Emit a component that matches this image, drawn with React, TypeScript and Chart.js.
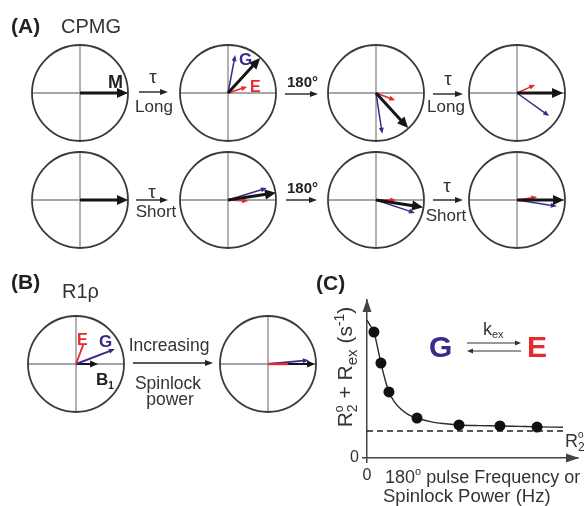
import React, { useEffect, useRef } from 'react';
import { Chart, registerables } from 'chart.js';

Chart.register(...registerables);

const FONT = '"Liberation Sans", Arial, Helvetica, sans-serif';
const PURPLE = '#3b2a8c';
const RED = '#e8292b';
const INK = '#151515';
const TEXT = '#333333';
const CIRCLE = '#3a3a3a';
const CROSS = '#888888';

// ---------- Panel C data (x: frequency, y: rate, arbitrary units) ----------
const pulseFreq = [3.3, 6.6, 10.4, 23.7, 43.6, 63.0, 80.6];
const rateObs = [79.7, 60.1, 41.8, 25.3, 20.9, 20.3, 19.6];
const fitFreq = [0, 1.5, 3.3, 5.0, 6.6, 8.5, 10.4, 13.0, 16.0, 20.0, 23.7, 30.0, 36.0, 43.6, 53.0, 63.0, 72.0, 80.6, 92.9];
const fitRate = [87.3, 84.0, 79.7, 70.0, 60.1, 50.0, 41.8, 35.5, 31.0, 27.2, 25.3, 23.0, 21.8, 20.9, 20.5, 20.3, 20.0, 19.7, 19.5];
const r2Baseline = 17.1;
const baselineFreq = [0, 92.9];
const xTickValues = [0];
const yTickValues = [0];

// ---------- Panel A vectors (fraction of radius, y up) ----------
type V = number[] | null;
const cpmgLongM: V[] = [[1.0, 0], [0.67, 0.73], [0.67, -0.73], [0.96, 0]];
const cpmgLongG: V[] = [null, [0.15, 0.79], [0.13, -0.85], [0.67, -0.48]];
const cpmgLongE: V[] = [null, [0.40, 0.13], [0.40, -0.15], [0.38, 0.17]];
const cpmgShortM: V[] = [[1.0, 0], [1.0, 0.15], [0.98, -0.15], [0.98, 0]];
const cpmgShortG: V[] = [null, [0.81, 0.25], [0.81, -0.27], [0.83, -0.13]];
const cpmgShortE: V[] = [null, [0.42, -0.02], [0.42, 0.0], [0.42, 0.06]];

// ---------- Panel B vectors ----------
const r1rhoB1: V[] = [[0.46, 0], [0.98, 0]];
const r1rhoG: V[] = [[0.81, 0.31], [0.85, 0.08]];
const r1rhoE: V[] = [[0.15, 0.40], [0.40, 0]];

// ---------- layout ----------
const R = 48;
const colX = [80, 228, 376, 517];
const rowY = [93, 200];
const bCenters = [[76, 364], [268, 364]];

type Part = { t: string; size: number; dy?: number; bold?: boolean; color?: string; stack?: boolean };

function fontStr(size: number, bold?: boolean) {
  return `${bold ? 'bold ' : ''}${size}px ${FONT}`;
}

function drawRich(ctx: CanvasRenderingContext2D, parts: Part[], x: number, y: number, align = 'left') {
  let cx = 0;
  let prevStart = 0;
  const items: { p: Part; sx: number }[] = [];
  for (const p of parts) {
    ctx.font = fontStr(p.size, p.bold);
    const w = ctx.measureText(p.t).width;
    let sx: number;
    if (p.stack) {
      sx = prevStart;
      cx = Math.max(cx, sx + w);
    } else {
      sx = cx;
      prevStart = sx;
      cx += w;
    }
    items.push({ p, sx });
  }
  const off = align === 'center' ? -cx / 2 : align === 'right' ? -cx : 0;
  ctx.textAlign = 'left';
  ctx.textBaseline = 'alphabetic';
  for (const { p, sx } of items) {
    ctx.font = fontStr(p.size, p.bold);
    ctx.fillStyle = p.color || TEXT;
    ctx.fillText(p.t, x + off + sx, y + (p.dy || 0));
  }
}

function txt(ctx: CanvasRenderingContext2D, s: string, x: number, y: number, size: number, bold = false, color = TEXT, align: CanvasTextAlign = 'left') {
  ctx.font = fontStr(size, bold);
  ctx.fillStyle = color;
  ctx.textAlign = align;
  ctx.textBaseline = 'alphabetic';
  ctx.fillText(s, x, y);
}

function arrow(ctx: CanvasRenderingContext2D, x0: number, y0: number, x1: number, y1: number, color: string, lw: number, hl: number, hw: number) {
  const a = Math.atan2(y1 - y0, x1 - x0);
  const ca = Math.cos(a), sa = Math.sin(a);
  const bx = x1 - hl * ca, by = y1 - hl * sa;
  ctx.strokeStyle = color;
  ctx.fillStyle = color;
  ctx.lineWidth = lw;
  ctx.lineCap = 'butt';
  ctx.beginPath();
  ctx.moveTo(x0, y0);
  ctx.lineTo(bx + ca, by + sa);
  ctx.stroke();
  if (hl > 0) {
    ctx.beginPath();
    ctx.moveTo(x1, y1);
    ctx.lineTo(bx - (hw / 2) * sa, by + (hw / 2) * ca);
    ctx.lineTo(bx + (hw / 2) * sa, by - (hw / 2) * ca);
    ctx.closePath();
    ctx.fill();
  }
}

function dial(ctx: CanvasRenderingContext2D, cx: number, cy: number) {
  ctx.lineWidth = 1.3;
  ctx.strokeStyle = CROSS;
  ctx.beginPath();
  ctx.moveTo(cx - R, cy);
  ctx.lineTo(cx + R, cy);
  ctx.moveTo(cx, cy - R);
  ctx.lineTo(cx, cy + R);
  ctx.stroke();
  ctx.lineWidth = 1.8;
  ctx.strokeStyle = CIRCLE;
  ctx.beginPath();
  ctx.arc(cx, cy, R, 0, Math.PI * 2);
  ctx.stroke();
}

function vec(ctx: CanvasRenderingContext2D, cx: number, cy: number, v: V, color: string, lw: number, hl: number, hw: number) {
  if (!v) return;
  arrow(ctx, cx, cy, cx + v[0] * R, cy - v[1] * R, color, lw, hl, hw);
}

function drawPanelA(ctx: CanvasRenderingContext2D) {
  txt(ctx, '(A)', 11, 33, 21, true, '#222');
  txt(ctx, 'CPMG', 61, 33, 20, false, TEXT);
  const sets = [
    [cpmgLongM, cpmgLongG, cpmgLongE],
    [cpmgShortM, cpmgShortG, cpmgShortE],
  ];
  for (let r = 0; r < 2; r++) {
    const [M, G, E] = sets[r];
    for (let c = 0; c < 4; c++) {
      const cx = colX[c], cy = rowY[r];
      dial(ctx, cx, cy);
      vec(ctx, cx, cy, G[c], PURPLE, 1.5, 6, 5);
      vec(ctx, cx, cy, E[c], RED, 1.6, 6, 5);
      vec(ctx, cx, cy, M[c], INK, 3, 11, 10);
    }
  }
  txt(ctx, 'M', 123, 88, 18, true, '#222', 'right');
  txt(ctx, 'G', 239, 65, 17, true, PURPLE);
  txt(ctx, 'E', 250, 92, 16, true, RED);

  // transitions row 1
  arrow(ctx, 139, 92, 168, 92, '#222', 1.4, 8, 6);
  txt(ctx, 'τ', 153, 83, 19, false, TEXT, 'center');
  txt(ctx, 'Long', 154, 112, 17, false, TEXT, 'center');
  arrow(ctx, 285, 94, 318, 94, '#222', 1.4, 8, 6);
  txt(ctx, '180°', 287, 87, 15, true, '#222');
  arrow(ctx, 433, 94, 463, 94, '#222', 1.4, 8, 6);
  txt(ctx, 'τ', 448, 85, 19, false, TEXT, 'center');
  txt(ctx, 'Long', 446, 112, 17, false, TEXT, 'center');

  // transitions row 2
  arrow(ctx, 136, 200, 168, 200, '#222', 1.4, 8, 6);
  txt(ctx, 'τ', 152, 198, 19, false, TEXT, 'center');
  txt(ctx, 'Short', 156, 217, 17, false, TEXT, 'center');
  arrow(ctx, 286, 200, 317, 200, '#222', 1.4, 8, 6);
  txt(ctx, '180°', 287, 193, 15, true, '#222');
  arrow(ctx, 433, 200, 463, 200, '#222', 1.4, 8, 6);
  txt(ctx, 'τ', 447, 192, 19, false, TEXT, 'center');
  txt(ctx, 'Short', 446, 221, 17, false, TEXT, 'center');
}

function drawPanelB(ctx: CanvasRenderingContext2D) {
  txt(ctx, '(B)', 11, 289, 21, true, '#222');
  txt(ctx, 'R1ρ', 62, 298, 20, false, TEXT);
  for (let i = 0; i < 2; i++) {
    const [cx, cy] = bCenters[i];
    dial(ctx, cx, cy);
    vec(ctx, cx, cy, r1rhoB1[i], INK, 2, 8, 7);
    vec(ctx, cx, cy, r1rhoG[i], PURPLE, 2, 6, 5);
    vec(ctx, cx, cy, r1rhoE[i], RED, i === 0 ? 1.8 : 2.4, 0, 0);
  }
  txt(ctx, 'E', 77, 345, 16, true, RED);
  txt(ctx, 'G', 99, 347, 17, true, PURPLE);
  drawRich(ctx, [
    { t: 'B', size: 17, bold: true, color: '#222' },
    { t: '1', size: 10, bold: true, dy: 4, color: '#222' },
  ], 96, 385);
  arrow(ctx, 133, 363, 213, 363, '#222', 1.4, 8, 6);
  txt(ctx, 'Increasing', 169, 351, 17.5, false, TEXT, 'center');
  txt(ctx, 'Spinlock', 168, 389, 17.5, false, TEXT, 'center');
  txt(ctx, 'power', 170, 405, 17.5, false, TEXT, 'center');
}

function drawPanelC(ctx: CanvasRenderingContext2D, chart: any) {
  const { left, top, right, bottom } = chart.chartArea;
  // axis arrowheads
  ctx.fillStyle = '#444';
  ctx.beginPath();
  ctx.moveTo(left, top - 1);
  ctx.lineTo(left - 4.5, top + 12);
  ctx.lineTo(left + 4.5, top + 12);
  ctx.closePath();
  ctx.fill();
  ctx.beginPath();
  ctx.moveTo(right + 1, bottom);
  ctx.lineTo(right - 12, bottom - 4.5);
  ctx.lineTo(right - 12, bottom + 4.5);
  ctx.closePath();
  ctx.fill();

  txt(ctx, '(C)', 316, 290, 21, true, '#222');

  // G <-> E
  txt(ctx, 'G', 429, 357, 30, true, PURPLE);
  txt(ctx, 'E', 527, 357, 30, true, RED);
  arrow(ctx, 467, 343, 521, 343, '#333', 1.2, 6, 5);
  arrow(ctx, 521, 351, 467, 351, '#333', 1.2, 6, 5);
  drawRich(ctx, [
    { t: 'k', size: 18 },
    { t: 'ex', size: 11, dy: 3 },
  ], 483, 335);

  // y title (rotated)
  ctx.save();
  ctx.translate(352, 367);
  ctx.rotate(-Math.PI / 2);
  drawRich(ctx, [
    { t: 'R', size: 21 },
    { t: '2', size: 14, dy: 5 },
    { t: 'o', size: 12, dy: -9, stack: true },
    { t: ' + R', size: 21 },
    { t: 'ex', size: 15, dy: 5 },
    { t: ' (s', size: 21 },
    { t: '-1', size: 14, dy: -8 },
    { t: ')', size: 21 },
  ], 0, 0, 'center');
  ctx.restore();

  // x title
  drawRich(ctx, [
    { t: '180', size: 18 },
    { t: 'o', size: 11, dy: -8 },
    { t: ' pulse Frequency or', size: 18 },
  ], 385, 483);
  txt(ctx, 'Spinlock Power (Hz)', 383, 502, 18.5, false, TEXT);

  // R2 baseline label
  drawRich(ctx, [
    { t: 'R', size: 18 },
    { t: '2', size: 12, dy: 4 },
    { t: 'o', size: 10, dy: -9, stack: true },
  ], 565, 447);
}

const figurePlugin = {
  id: 'figureExtras',
  beforeDraw(chart: any) {
    const c = chart.ctx;
    c.save();
    c.fillStyle = '#ffffff';
    c.fillRect(0, 0, chart.width, chart.height);
    c.restore();
  },
  afterDraw(chart: any) {
    const ctx = chart.ctx as CanvasRenderingContext2D;
    ctx.save();
    drawPanelA(ctx);
    drawPanelB(ctx);
    drawPanelC(ctx, chart);
    ctx.restore();
  },
};

export default function App() {
  const ref = useRef<HTMLCanvasElement>(null);
  useEffect(() => {
    const canvas = ref.current;
    if (!canvas) return;
    const chart = new Chart(canvas, {
      type: 'scatter',
      data: {
        datasets: [
          {
            type: 'scatter',
            data: pulseFreq.map((x, i) => ({ x, y: rateObs[i] })),
            pointRadius: 5.5,
            pointHoverRadius: 5.5,
            backgroundColor: '#111111',
            borderColor: '#111111',
            borderWidth: 0,
            order: 1,
          },
          {
            type: 'line',
            data: fitFreq.map((x, i) => ({ x, y: fitRate[i] })),
            borderColor: '#2b2b2b',
            borderWidth: 1.4,
            pointRadius: 0,
            cubicInterpolationMode: 'monotone',
            fill: false,
            order: 2,
          },
          {
            type: 'line',
            data: baselineFreq.map((x) => ({ x, y: r2Baseline })),
            borderColor: '#222222',
            borderWidth: 1.5,
            borderDash: [6, 4],
            pointRadius: 0,
            fill: false,
            order: 3,
          },
        ] as any,
      },
      options: {
        animation: false,
        responsive: false,
        devicePixelRatio: 1,
        layout: { padding: { left: 0, top: 300, right: 9, bottom: 0 } },
        plugins: { legend: { display: false }, tooltip: { enabled: false }, title: { display: false } },
        scales: {
          x: {
            type: 'linear',
            min: 0,
            max: 100,
            position: 'bottom',
            afterBuildTicks: (s: any) => { s.ticks = xTickValues.map((v) => ({ value: v })); },
            afterFit: (s: any) => { s.height = 48; },
            grid: { display: true, drawOnChartArea: false, drawTicks: true, tickLength: 5, color: '#444', lineWidth: 1.5 },
            border: { display: true, color: '#444', width: 1.5 },
            ticks: { color: TEXT, font: { family: FONT, size: 16 }, padding: 3, maxRotation: 0, autoSkip: false },
          },
          y: {
            type: 'linear',
            min: 0,
            max: 100,
            position: 'left',
            afterBuildTicks: (s: any) => { s.ticks = yTickValues.map((v) => ({ value: v })); },
            afterFit: (s: any) => { s.width = 367; },
            grid: { display: true, drawOnChartArea: false, drawTicks: true, tickLength: 5, color: '#444', lineWidth: 1.5 },
            border: { display: true, color: '#444', width: 1.5 },
            ticks: { color: TEXT, font: { family: FONT, size: 16 }, padding: 3, autoSkip: false },
          },
        },
      } as any,
      plugins: [figurePlugin],
    });
    return () => chart.destroy();
  }, []);

  return (
    <div style={{ position: 'absolute', left: 0, top: 0, width: 587, height: 506 }}>
      <canvas ref={ref} width={587} height={506} style={{ width: 587, height: 506, display: 'block' }} />
    </div>
  );
}
